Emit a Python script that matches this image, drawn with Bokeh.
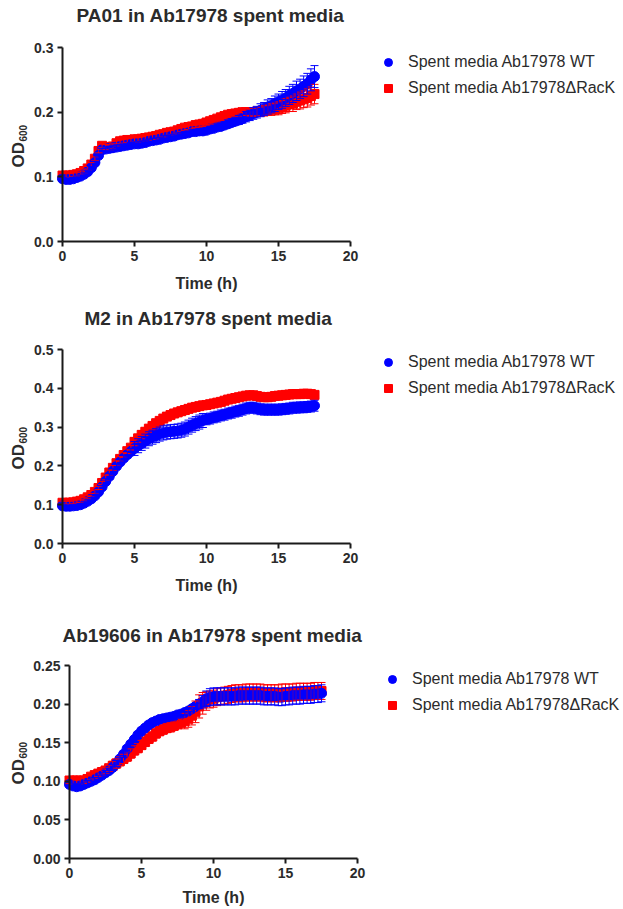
import math
from bokeh.plotting import figure
from bokeh.models import (ColumnDataSource, Whisker, TeeHead, Legend, LegendItem,
                          FixedTicker, PrintfTickFormatter, Range1d, Label)
from bokeh.layouts import column
from bokeh.embed import file_html
from bokeh.resources import INLINE

FONT = "Liberation Sans"
BLUE = "#0000FF"
RED = "#FF0000"
TXT = "#2b2b2b"

LABEL_WT = "Spent media Ab17978 WT"
LABEL_RK = "Spent media Ab17978\u0394RacK"
Y_LABEL_MAIN = "OD"
Y_LABEL_SUB = "600"
X_LABEL = "Time (h)"

TITLES = ["PA01 in Ab17978 spent media", "M2 in Ab17978 spent media",
          "Ab19606 in Ab17978 spent media"]

X_TICKS = [0, 5, 10, 15, 20]

TIME = [0, 0.25, 0.5, 0.75, 1, 1.25, 1.5, 1.75, 2, 2.25, 2.5, 2.75,
        3, 3.25, 3.5, 3.75, 4, 4.25, 4.5, 4.75, 5, 5.25, 5.5, 5.75,
        6, 6.25, 6.5, 6.75, 7, 7.25, 7.5, 7.75, 8, 8.25, 8.5, 8.75,
        9, 9.25, 9.5, 9.75, 10, 10.25, 10.5, 10.75, 11, 11.25, 11.5, 11.75,
        12, 12.25, 12.5, 12.75, 13, 13.25, 13.5, 13.75, 14, 14.25, 14.5, 14.75,
        15, 15.25, 15.5, 15.75, 16, 16.25, 16.5, 16.75, 17, 17.25, 17.5]

# ---- Panel 1: PA01 ----
PA01_WT = [0.097, 0.096, 0.096, 0.097, 0.099, 0.101, 0.104, 0.108,
           0.114, 0.122, 0.133, 0.142, 0.143, 0.144, 0.145, 0.146,
           0.147, 0.148, 0.149, 0.150, 0.151, 0.151, 0.152, 0.153,
           0.155, 0.156, 0.157, 0.158, 0.160, 0.161, 0.162, 0.163,
           0.165, 0.166, 0.167, 0.168, 0.170, 0.170, 0.171, 0.171,
           0.172, 0.174, 0.175, 0.177, 0.178, 0.180, 0.182, 0.184,
           0.186, 0.188, 0.190, 0.193, 0.195, 0.198, 0.200, 0.203,
           0.205, 0.208, 0.210, 0.213, 0.216, 0.219, 0.222, 0.226,
           0.229, 0.233, 0.236, 0.240, 0.244, 0.250, 0.255]
PA01_WT_ERR = [0.002, 0.002, 0.002, 0.002, 0.002, 0.002, 0.002, 0.002,
               0.002, 0.002, 0.002, 0.002, 0.003, 0.003, 0.003, 0.003,
               0.003, 0.003, 0.003, 0.003, 0.003, 0.003, 0.003, 0.003,
               0.003, 0.003, 0.003, 0.003, 0.003, 0.003, 0.003, 0.003,
               0.003, 0.003, 0.003, 0.003, 0.003, 0.003, 0.003, 0.003,
               0.004, 0.004, 0.005, 0.005, 0.005, 0.005, 0.006, 0.006,
               0.006, 0.007, 0.007, 0.008, 0.008, 0.009, 0.009, 0.010,
               0.010, 0.011, 0.011, 0.012, 0.012, 0.013, 0.013, 0.014,
               0.014, 0.015, 0.015, 0.016, 0.016, 0.017, 0.017]
PA01_RK = [0.102, 0.102, 0.102, 0.103, 0.104, 0.106, 0.109, 0.113,
           0.119, 0.128, 0.140, 0.148, 0.146, 0.145, 0.147, 0.152,
           0.155, 0.156, 0.157, 0.157, 0.158, 0.158, 0.159, 0.160,
           0.161, 0.162, 0.163, 0.165, 0.166, 0.168, 0.169, 0.170,
           0.172, 0.174, 0.176, 0.177, 0.178, 0.180, 0.181, 0.182,
           0.184, 0.186, 0.188, 0.190, 0.192, 0.194, 0.196, 0.197,
           0.198, 0.199, 0.200, 0.200, 0.200, 0.200, 0.201, 0.201,
           0.202, 0.203, 0.204, 0.205, 0.206, 0.208, 0.210, 0.212,
           0.213, 0.216, 0.218, 0.220, 0.222, 0.225, 0.228]
PA01_RK_ERR = [0.003, 0.003, 0.003, 0.003, 0.003, 0.003, 0.003, 0.003,
               0.003, 0.003, 0.003, 0.003, 0.004, 0.004, 0.004, 0.004,
               0.004, 0.004, 0.004, 0.004, 0.004, 0.004, 0.004, 0.004,
               0.004, 0.004, 0.004, 0.004, 0.004, 0.004, 0.004, 0.004,
               0.004, 0.004, 0.004, 0.004, 0.004, 0.004, 0.004, 0.004,
               0.005, 0.005, 0.005, 0.005, 0.005, 0.005, 0.005, 0.005,
               0.005, 0.005, 0.005, 0.005, 0.006, 0.006, 0.007, 0.007,
               0.008, 0.008, 0.009, 0.009, 0.010, 0.010, 0.011, 0.011,
               0.012, 0.012, 0.013, 0.013, 0.014, 0.014, 0.015]

# ---- Panel 2: M2 ----
M2_WT = [0.097, 0.096, 0.096, 0.097, 0.098, 0.100, 0.104, 0.109,
         0.115, 0.123, 0.133, 0.146, 0.160, 0.173, 0.186, 0.199,
         0.210, 0.220, 0.229, 0.237, 0.245, 0.252, 0.258, 0.264,
         0.270, 0.274, 0.278, 0.282, 0.285, 0.287, 0.288, 0.289,
         0.290, 0.292, 0.295, 0.300, 0.305, 0.309, 0.313, 0.317,
         0.320, 0.322, 0.325, 0.327, 0.330, 0.332, 0.335, 0.337,
         0.340, 0.342, 0.345, 0.348, 0.350, 0.350, 0.348, 0.346,
         0.345, 0.345, 0.345, 0.345, 0.345, 0.346, 0.347, 0.348,
         0.350, 0.350, 0.351, 0.351, 0.352, 0.353, 0.355]
M2_WT_ERR = [0.003, 0.003, 0.003, 0.003, 0.003, 0.003, 0.003, 0.003,
             0.003, 0.003, 0.003, 0.003, 0.008, 0.008, 0.008, 0.008,
             0.008, 0.008, 0.008, 0.008, 0.018, 0.018, 0.018, 0.018,
             0.018, 0.018, 0.018, 0.018, 0.018, 0.018, 0.018, 0.018,
             0.018, 0.018, 0.018, 0.018, 0.018, 0.018, 0.018, 0.018,
             0.014, 0.014, 0.014, 0.014, 0.014, 0.014, 0.014, 0.014,
             0.014, 0.014, 0.014, 0.014, 0.014, 0.014, 0.014, 0.014,
             0.014, 0.014, 0.014, 0.014, 0.014, 0.014, 0.014, 0.014,
             0.014, 0.014, 0.014, 0.014, 0.014, 0.014, 0.014]
M2_RK = [0.105, 0.105, 0.105, 0.106, 0.108, 0.110, 0.114, 0.119,
         0.125, 0.133, 0.143, 0.156, 0.170, 0.183, 0.195, 0.207,
         0.218, 0.228, 0.238, 0.247, 0.262, 0.271, 0.280, 0.288,
         0.296, 0.303, 0.310, 0.316, 0.322, 0.327, 0.331, 0.335,
         0.338, 0.341, 0.344, 0.347, 0.350, 0.352, 0.354, 0.356,
         0.357, 0.359, 0.361, 0.363, 0.365, 0.368, 0.371, 0.373,
         0.375, 0.377, 0.379, 0.381, 0.382, 0.382, 0.380, 0.378,
         0.377, 0.377, 0.378, 0.380, 0.381, 0.382, 0.383, 0.384,
         0.385, 0.385, 0.385, 0.386, 0.386, 0.385, 0.383]
M2_RK_ERR = [0.004, 0.004, 0.004, 0.004, 0.004, 0.004, 0.004, 0.004,
             0.004, 0.004, 0.004, 0.004, 0.006, 0.006, 0.006, 0.006,
             0.006, 0.006, 0.006, 0.006, 0.010, 0.010, 0.010, 0.010,
             0.010, 0.010, 0.010, 0.010, 0.010, 0.010, 0.010, 0.010,
             0.010, 0.010, 0.010, 0.010, 0.010, 0.010, 0.010, 0.010,
             0.009, 0.009, 0.009, 0.009, 0.009, 0.009, 0.009, 0.009,
             0.009, 0.009, 0.009, 0.009, 0.009, 0.009, 0.009, 0.009,
             0.009, 0.009, 0.009, 0.009, 0.009, 0.009, 0.009, 0.009,
             0.009, 0.009, 0.009, 0.009, 0.009, 0.009, 0.009]

# ---- Panel 3: Ab19606 ----
AB_WT = [0.096, 0.094, 0.093, 0.094, 0.096, 0.098, 0.100, 0.102,
         0.105, 0.108, 0.111, 0.114, 0.118, 0.123, 0.129, 0.135,
         0.142, 0.148, 0.154, 0.160, 0.165, 0.169, 0.173, 0.176,
         0.178, 0.180, 0.181, 0.182, 0.183, 0.184, 0.186, 0.187,
         0.189, 0.191, 0.194, 0.197, 0.200, 0.203, 0.207, 0.209,
         0.210, 0.210, 0.210, 0.210, 0.210, 0.210, 0.210, 0.211,
         0.211, 0.211, 0.211, 0.211, 0.211, 0.211, 0.210, 0.210,
         0.210, 0.210, 0.209, 0.209, 0.210, 0.210, 0.211, 0.211,
         0.211, 0.212, 0.212, 0.212, 0.213, 0.213, 0.214]
AB_WT_ERR = [0.003, 0.003, 0.003, 0.003, 0.003, 0.003, 0.003, 0.003,
             0.003, 0.003, 0.003, 0.003, 0.004, 0.004, 0.004, 0.004,
             0.004, 0.004, 0.004, 0.004, 0.004, 0.004, 0.004, 0.004,
             0.004, 0.004, 0.004, 0.004, 0.004, 0.004, 0.004, 0.004,
             0.004, 0.004, 0.004, 0.004, 0.006, 0.008, 0.010, 0.011,
             0.011, 0.011, 0.011, 0.011, 0.011, 0.011, 0.011, 0.011,
             0.011, 0.011, 0.011, 0.011, 0.011, 0.011, 0.011, 0.011,
             0.011, 0.011, 0.011, 0.011, 0.011, 0.011, 0.011, 0.011,
             0.011, 0.011, 0.011, 0.011, 0.011, 0.011, 0.011]
AB_RK = [0.101, 0.101, 0.101, 0.101, 0.101, 0.103, 0.106, 0.108,
         0.110, 0.112, 0.114, 0.117, 0.120, 0.123, 0.126, 0.129,
         0.132, 0.136, 0.140, 0.143, 0.147, 0.151, 0.155, 0.158,
         0.162, 0.165, 0.167, 0.169, 0.170, 0.172, 0.174, 0.176,
         0.178, 0.181, 0.185, 0.190, 0.197, 0.201, 0.204, 0.206,
         0.207, 0.209, 0.210, 0.211, 0.212, 0.213, 0.214, 0.214,
         0.214, 0.215, 0.215, 0.215, 0.215, 0.215, 0.214, 0.214,
         0.214, 0.214, 0.214, 0.215, 0.215, 0.215, 0.215, 0.216,
         0.216, 0.216, 0.216, 0.216, 0.217, 0.217, 0.217]
AB_RK_ERR = [0.004, 0.004, 0.004, 0.004, 0.004, 0.004, 0.004, 0.004,
             0.004, 0.004, 0.004, 0.004, 0.006, 0.006, 0.006, 0.006,
             0.006, 0.006, 0.006, 0.006, 0.006, 0.006, 0.006, 0.006,
             0.006, 0.006, 0.006, 0.006, 0.006, 0.006, 0.006, 0.006,
             0.010, 0.011, 0.012, 0.014, 0.015, 0.014, 0.012, 0.011,
             0.011, 0.011, 0.011, 0.011, 0.011, 0.011, 0.011, 0.011,
             0.011, 0.011, 0.011, 0.011, 0.011, 0.011, 0.011, 0.011,
             0.011, 0.011, 0.011, 0.011, 0.011, 0.011, 0.011, 0.011,
             0.011, 0.011, 0.011, 0.011, 0.011, 0.011, 0.011]

Y_TICKS_1 = [0.0, 0.1, 0.2, 0.3]
Y_TICKS_2 = [0.0, 0.1, 0.2, 0.3, 0.4, 0.5]
Y_TICKS_3 = [0.00, 0.05, 0.10, 0.15, 0.20, 0.25]

FIG_W = 623
AXIS_W = 288           # pixel length of the 0..20 h axis


def make_panel(title, wt, wt_err, rk, rk_err, y_ticks, y_fmt,
               top, height, x0, y0, axis_h, title_xy, xlab_y, leg_x, leg_row1):
    """Page-pixel layout: figure spans page y top..top+height; the axes cross
    at page (x0, y0); axis_h is the pixel length of the y axis.  The whole
    canvas is the plot frame so every text can be placed freely."""
    y_max = y_ticks[-1]
    x_hi = X_TICKS[-1]
    kx = AXIS_W / x_hi
    ky = axis_h / y_max

    def dx(px):                # page x -> data x
        return (px - x0) / kx

    def dy(py):                # page y -> data y
        return (y0 - py) / ky

    p = figure(width=FIG_W, height=height, title=None,
               x_range=Range1d(dx(0), dx(FIG_W)),
               y_range=Range1d(dy(top + height), dy(top)),
               output_backend="svg", toolbar_location=None,
               min_border_left=0, min_border_right=0,
               min_border_top=0, min_border_bottom=0)
    p.outline_line_color = None
    p.grid.visible = False
    p.background_fill_color = "white"
    p.border_fill_color = "white"

    for ax in (p.xaxis[0], p.yaxis[0]):
        ax.fixed_location = 0
        ax.axis_line_width = 2
        ax.axis_line_color = "#1a1a1a"
        ax.major_tick_line_width = 2
        ax.major_tick_line_color = "#1a1a1a"
        ax.major_tick_in = 0
        ax.major_tick_out = 5
        ax.minor_tick_line_color = None
        ax.major_label_text_font = FONT
        ax.major_label_text_font_style = "bold"
        ax.major_label_text_font_size = "14px"
        ax.major_label_text_color = TXT
        ax.major_label_standoff = 4

    p.xaxis.bounds = (X_TICKS[0], x_hi)
    p.xaxis.ticker = FixedTicker(ticks=X_TICKS)
    p.yaxis.bounds = (0, y_max)
    p.yaxis.ticker = FixedTicker(ticks=y_ticks)
    p.yaxis.formatter = PrintfTickFormatter(format=y_fmt)

    bold = dict(text_font=FONT, text_font_style="bold", text_color=TXT)
    p.add_layout(Label(x=dx(title_xy[0]), y=dy(title_xy[1]), text=title,
                       text_align="center", text_baseline="middle",
                       text_font_size="19px", **bold))
    p.add_layout(Label(x=x_hi / 2, y=dy(xlab_y), text=X_LABEL,
                       text_align="center", text_baseline="middle",
                       text_font_size="16px", **bold))
    # y axis title: OD with subscript 600, reading upwards
    p.add_layout(Label(x=dx(18), y=dy(y0 - 74), text=Y_LABEL_MAIN, angle=math.pi / 2,
                       text_align="left", text_baseline="middle",
                       text_font_size="17px", **bold))
    p.add_layout(Label(x=dx(22), y=dy(y0 - 100), text=Y_LABEL_SUB, angle=math.pi / 2,
                       text_align="left", text_baseline="middle",
                       text_font_size="10px", **bold))

    renderers = {}
    for name, vals, errs, color, marker, size in (
            ("rk", rk, rk_err, RED, "square", 9),
            ("wt", wt, wt_err, BLUE, "circle", 10)):
        src = ColumnDataSource(data=dict(
            t=TIME, y=vals,
            lo=[v - e for v, e in zip(vals, errs)],
            hi=[v + e for v, e in zip(vals, errs)]))
        w = Whisker(source=src, base="t", upper="hi", lower="lo",
                    line_color=color, line_width=1, level="glyph",
                    upper_head=TeeHead(size=8, line_color=color, line_width=1),
                    lower_head=TeeHead(size=8, line_color=color, line_width=1))
        p.add_layout(w)
        renderers[name] = p.scatter("t", "y", source=src, marker=marker, size=size,
                                    fill_color=color, line_color=color)

    row_h, gap = 20, 6
    leg_h = 2 * row_h + gap
    legend = Legend(items=[LegendItem(label=LABEL_WT, renderers=[renderers["wt"]]),
                           LegendItem(label=LABEL_RK, renderers=[renderers["rk"]])],
                    location=(leg_x - 10, top + height - (leg_row1 - row_h / 2 + leg_h)),
                    padding=0, margin=0, spacing=gap,
                    glyph_width=20, glyph_height=row_h, label_height=row_h,
                    label_standoff=10,
                    border_line_color=None, background_fill_alpha=0,
                    label_text_font=FONT, label_text_font_size="16px",
                    label_text_color=TXT, label_text_baseline="middle")
    p.add_layout(legend)
    return p


# figure 1 spans page y 0..300, figure 2 300..610, figure 3 610..909
p1 = make_panel(TITLES[0], PA01_WT, PA01_WT_ERR, PA01_RK, PA01_RK_ERR,
                Y_TICKS_1, "%.1f", 0, 300, 62, 241, 194, (210, 15), 283, 388, 62)
p2 = make_panel(TITLES[1], M2_WT, M2_WT_ERR, M2_RK, M2_RK_ERR,
                Y_TICKS_2, "%.1f", 300, 310, 62, 543, 194, (208, 318), 585, 388, 362)
p3 = make_panel(TITLES[2], AB_WT, AB_WT_ERR, AB_RK, AB_RK_ERR,
                Y_TICKS_3, "%.2f", 610, 299, 69, 858, 193, (212, 635), 897, 392, 679)

layout = column(p1, p2, p3, spacing=0)
open("out.html", "w").write(file_html(layout, INLINE))
